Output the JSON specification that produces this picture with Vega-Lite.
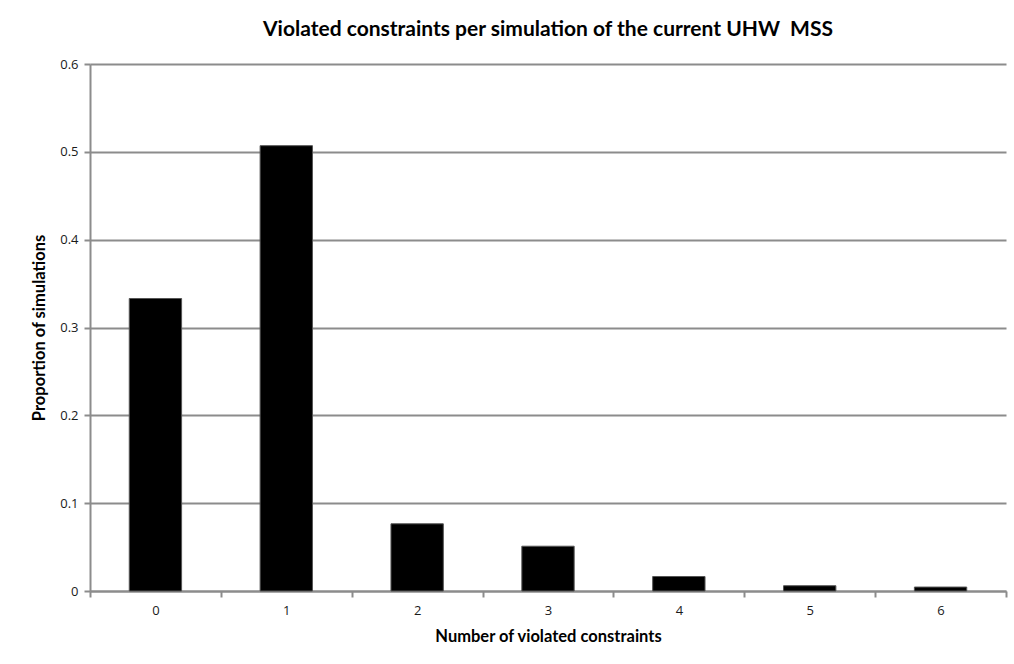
{
  "$schema": "https://vega.github.io/schema/vega-lite/v6.json",
  "autosize": {"type": "none"},
  "width": 916,
  "height": 527,
  "padding": {"left": 90, "top": 64, "right": 8, "bottom": 73},
  "background": "white",
  "title": {
    "text": "Violated constraints per simulation of the current UHW\u00a0 MSS",
    "font": "Lato",
    "fontSize": 21,
    "fontWeight": "bold",
    "color": "#000000",
    "anchor": "middle",
    "offset": 18
  },
  "config": {
    "view": {"stroke": null},
    "axis": {
      "labelFont": "Open Sans",
      "labelFontSize": 13,
      "labelColor": "#1a1a1a",
      "titleFont": "Lato",
      "titleFontSize": 16.5,
      "titleFontWeight": "bold",
      "titleColor": "#000000",
      "domainColor": "#8c8c8c",
      "domainWidth": 2,
      "tickColor": "#8c8c8c",
      "tickWidth": 2,
      "tickSize": 6,
      "gridColor": "#8c8c8c",
      "gridWidth": 2,
      "gridOpacity": 1
    }
  },
  "data": {
    "values": [
      {"violated": "0", "proportion": 0.333},
      {"violated": "1", "proportion": 0.507},
      {"violated": "2", "proportion": 0.0765},
      {"violated": "3", "proportion": 0.051},
      {"violated": "4", "proportion": 0.0165},
      {"violated": "5", "proportion": 0.006},
      {"violated": "6", "proportion": 0.0045}
    ]
  },
  "mark": {"type": "bar", "color": "#000000", "stroke": "#555555", "strokeWidth": 1, "width": {"band": 0.4}},
  "encoding": {
    "x": {
      "field": "violated",
      "type": "ordinal",
      "sort": null,
      "scale": {"paddingInner": 0, "paddingOuter": 0},
      "axis": {
        "title": "Number of violated constraints",
        "labelAngle": 0,
        "tickBand": "extent",
        "labelPadding": 7,
        "titlePadding": 11
      }
    },
    "y": {
      "field": "proportion",
      "type": "quantitative",
      "scale": {"domain": [0, 0.6], "nice": false},
      "axis": {
        "title": "Proportion of simulations",
        "values": [0, 0.1, 0.2, 0.3, 0.4, 0.5, 0.6],
        "format": ".1~f",
        "labelPadding": 6,
        "titlePadding": 12,
        "domain": true
      }
    }
  }
}
